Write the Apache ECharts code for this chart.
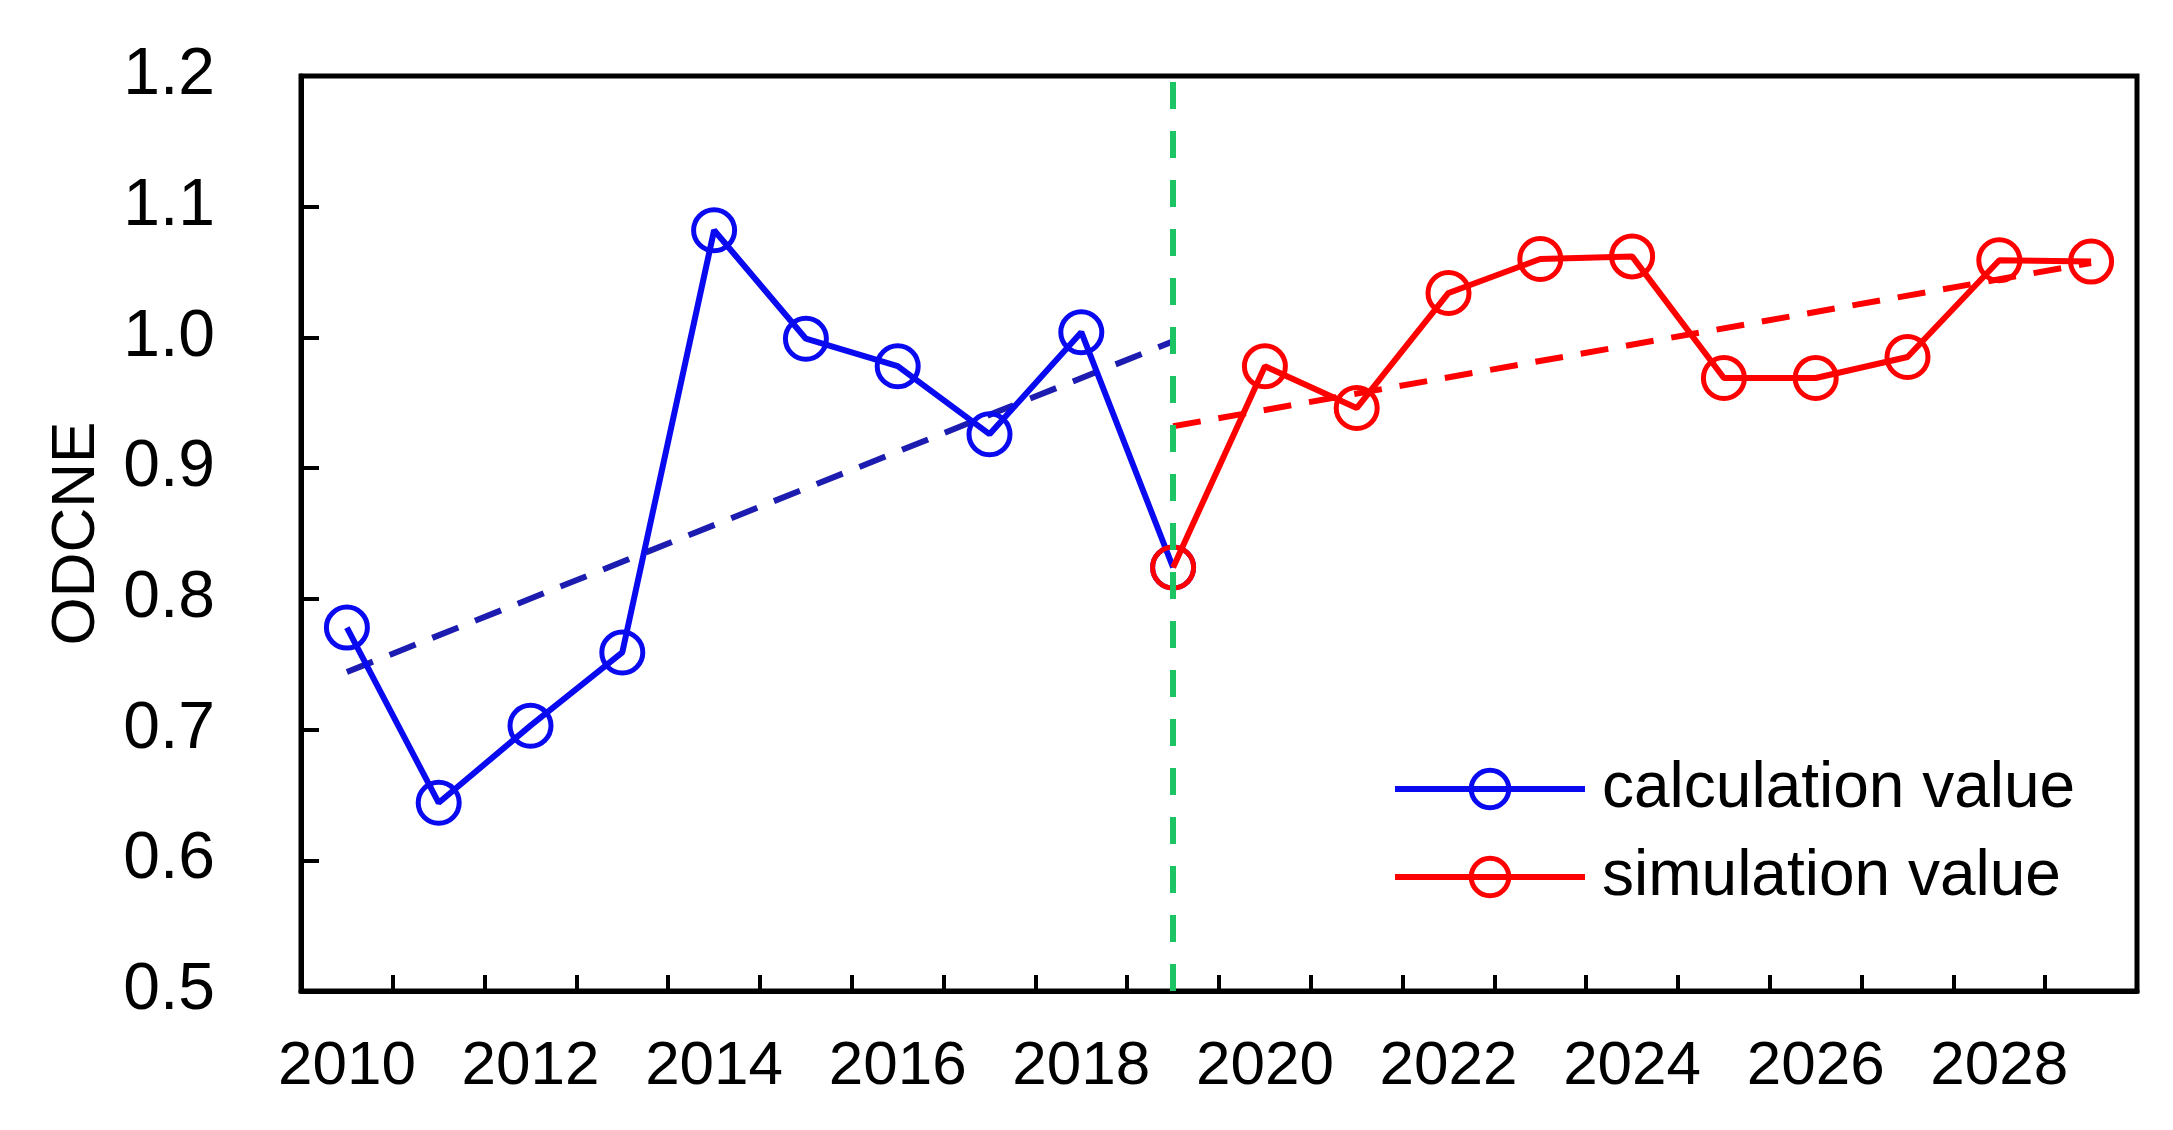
<!DOCTYPE html>
<html><head><meta charset="utf-8">
<script src="https://cdn.jsdelivr.net/npm/echarts@6/dist/echarts.min.js"></script>
<style>html,body{margin:0;padding:0;background:#fff}#c{width:2173px;height:1130px}</style>
</head><body><div id="c"></div>
<script>
const years = ['2010','2011','2012','2013','2014','2015','2016','2017','2018','2019',
               '2020','2021','2022','2023','2024','2025','2026','2027','2028','2029'];
const calcYears = ['2010','2011','2012','2013','2014','2015','2016','2017','2018','2019'];
const calcValues = [0.778,0.644,0.703,0.759,1.082,0.999,0.978,0.926,1.004,0.824];
const simYears = ['2019','2020','2021','2022','2023','2024','2025','2026','2027','2028','2029'];
const simValues = [0.824,0.978,0.946,1.034,1.060,1.062,0.969,0.969,0.985,1.059,1.058];
const calcTrendYears = ['2010','2019'];
const calcTrendValues = [0.744,0.997];
const simTrendYears = ['2019','2029'];
const simTrendValues = [0.932,1.057];
const splitYear = '2019';
const yMin = 0.5, yMax = 1.2, yStep = 0.1;

const BLUE = '#0a0af0', RED = '#ff0000', BLUE_T = '#1c1cb0', GREEN = '#1dc463';
const FONT = 'Liberation Sans, Arial, sans-serif';
const pair = (xs, vs) => xs.map((x, i) => [x, vs[i]]);

const chart = echarts.init(document.getElementById('c'), null, {renderer: 'canvas'});
chart.setOption({
  animation: false,
  backgroundColor: '#fff',
  grid: {left: 301, right: 36, top: 76, bottom: 139, show: true, borderColor: '#000', borderWidth: 5, backgroundColor: 'transparent'},
  legend: {
    orient: 'vertical', left: 1387, top: 752,
    itemWidth: 190, itemHeight: 47, itemGap: 24,
    data: [
      {name: 'calculation value', lineStyle: {color: BLUE, width: 6}, itemStyle: {color: 'rgba(255,255,255,0)', borderColor: BLUE, borderWidth: 5}},
      {name: 'simulation value', lineStyle: {color: RED, width: 6}, itemStyle: {color: 'rgba(255,255,255,0)', borderColor: RED, borderWidth: 5}}
    ],
    textStyle: {fontFamily: FONT, fontSize: 64, color: '#000', padding: [0, 0, 0, 12]}
  },
  xAxis: {
    type: 'category', data: years, boundaryGap: true,
    axisLine: {show: true, lineStyle: {color: '#000', width: 5}},
    axisTick: {show: true, inside: true, interval: 0, length: 16, lineStyle: {color: '#000', width: 4}},
    axisLabel: {interval: 1, margin: 45, fontFamily: FONT, fontSize: 62, color: '#000'},
    splitLine: {show: false}
  },
  yAxis: {
    type: 'value', min: yMin, max: yMax, interval: yStep,
    name: 'ODCNE', nameLocation: 'middle', nameGap: 193, nameRotate: 90,
    nameTextStyle: {fontFamily: FONT, fontSize: 62, color: '#000'},
    axisLine: {show: true, lineStyle: {color: '#000', width: 5}},
    axisTick: {show: true, inside: true, length: 18, lineStyle: {color: '#000', width: 4}},
    axisLabel: {margin: 86, fontFamily: FONT, fontSize: 66, color: '#000', formatter: v => v.toFixed(1)},
    splitLine: {show: false}
  },
  series: [
    {
      name: 'calcTrend', type: 'line', data: pair(calcTrendYears, calcTrendValues), symbol: 'none',
      lineStyle: {color: BLUE_T, width: 6, type: [28, 18]}, z: 2, silent: true
    },
    {
      name: 'simTrend', type: 'line', data: pair(simTrendYears, simTrendValues), symbol: 'none',
      lineStyle: {color: RED, width: 6, type: [28, 18]}, z: 2, silent: true
    },
    {
      name: 'calculation value', type: 'line', data: pair(calcYears, calcValues),
      symbol: 'circle', symbolSize: 41,
      lineStyle: {color: BLUE, width: 6},
      itemStyle: {color: 'rgba(255,255,255,0)', borderColor: BLUE, borderWidth: 5},
      z: 3,
      markLine: {
        silent: true, symbol: 'none', label: {show: false},
        lineStyle: {color: GREEN, width: 6, type: [27, 22]},
        data: [{xAxis: splitYear}]
      }
    },
    {
      name: 'simulation value', type: 'line', data: pair(simYears, simValues),
      symbol: 'circle', symbolSize: 41,
      lineStyle: {color: RED, width: 6},
      itemStyle: {color: 'rgba(255,255,255,0)', borderColor: RED, borderWidth: 5},
      z: 4
    }
  ]
});
</script></body></html>
